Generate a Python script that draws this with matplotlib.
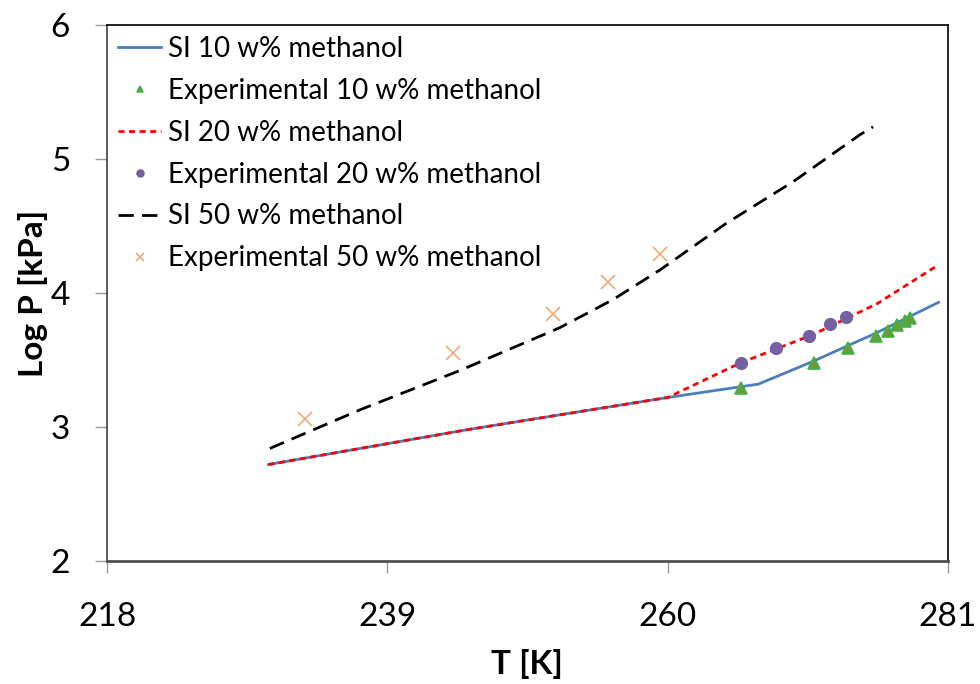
import matplotlib.pyplot as plt

# SI model curves (T [K], log P [kPa])
si10_T = [230.1, 245.0, 260.0, 266.8, 270.9, 275.6, 280.3]
si10_P = [2.72, 2.98, 3.22, 3.32, 3.49, 3.70, 3.93]

si20_T = [230.1, 245.0, 260.0, 265.5, 270.9, 275.7, 280.3]
si20_P = [2.72, 2.98, 3.22, 3.48, 3.69, 3.92, 4.21]

si50_T = [230.2, 237.0, 244.4, 251.9, 255.9, 259.4, 264.4, 269.4, 274.4, 275.4]
si50_P = [2.84, 3.13, 3.42, 3.74, 3.95, 4.17, 4.52, 4.83, 5.18, 5.24]

# experimental points
exp10_T = [265.5, 271.0, 273.5, 275.6, 276.5, 277.2, 277.8, 278.2]
exp10_P = [3.29, 3.48, 3.59, 3.68, 3.72, 3.76, 3.79, 3.81]

exp20_T = [265.5, 268.1, 270.6, 272.2, 273.4]
exp20_P = [3.48, 3.59, 3.68, 3.77, 3.82]

exp50_T = [232.8, 243.9, 251.4, 255.5, 259.4]
exp50_P = [3.06, 3.55, 3.84, 4.08, 4.29]

xticks = [218, 239, 260, 281]
yticks = [2, 3, 4, 5, 6]

plt.rcParams['font.family'] = ['Lato', 'DejaVu Sans']

fig = plt.figure(figsize=(9.8, 6.84), dpi=100)
ax = fig.add_axes([0.1092, 0.1798, 0.8580, 0.7837])

ax.plot(si10_T, si10_P, color='#4a7ebb', lw=2, label='SI 10 w% methanol')
ax.plot(exp10_T, exp10_P, ls='none', marker='^', ms=8, mfc='#6e9a3c',
        mec='#3cb44b', mew=1.2, label='Experimental 10 w% methanol')
ax.plot(si20_T, si20_P, color='#ff0000', lw=2, ls=(0, (2.2, 1.6)),
        label='SI 20 w% methanol')
ax.plot(exp20_T, exp20_P, ls='none', marker='o', ms=8.5, mfc='#7560a0',
        mec='#7560a0', label='Experimental 20 w% methanol')
ax.plot(si50_T, si50_P, color='black', lw=2, ls=(0, (5.5, 3)),
        label='SI 50 w% methanol')
ax.plot(exp50_T, exp50_P, ls='none', marker='x', ms=10, mec='#f0a878',
        mew=1.2, label='Experimental 50 w% methanol')

ax.set_xlim(218, 281)
ax.set_ylim(2, 6)
ax.set_xticks(xticks)
ax.set_yticks(yticks)
ax.tick_params(axis='both', direction='out', length=8.6, width=1,
               color='#999999', labelsize=24)
ax.tick_params(axis='x', pad=21)
ax.tick_params(axis='y', pad=18)

for side in ['top', 'right']:
    ax.spines[side].set_color('black')
    ax.spines[side].set_linewidth(1.2)
ax.spines['left'].set_color('#404040')
ax.spines['left'].set_linewidth(1.2)
ax.spines['bottom'].set_color('#505050')
ax.spines['bottom'].set_linewidth(2)

ax.set_xlabel('T [K]', fontsize=24, fontweight='bold', labelpad=12)
ax.set_ylabel('Log P [kPa]', fontsize=24, fontweight='bold', labelpad=2)

ax.legend(loc='upper left', frameon=False, fontsize=20, handlelength=1.55,
          handletextpad=0.25, labelspacing=0.57, borderaxespad=0.3,
          borderpad=0.1, markerscale=0.6)

fig.savefig('out.png', dpi=100)
